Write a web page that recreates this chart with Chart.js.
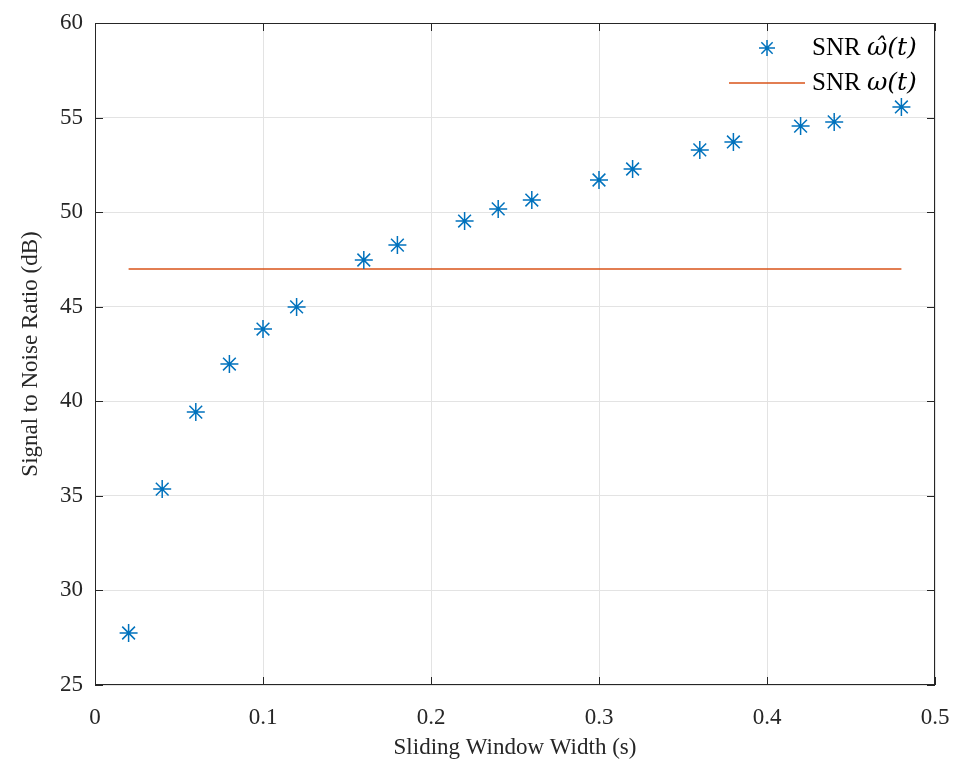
<!DOCTYPE html>
<html>
<head>
<meta charset="utf-8">
<script src="https://cdn.jsdelivr.net/npm/chart.js@4/dist/chart.umd.min.js"></script>
<style>
  html, body { margin: 0; padding: 0; background: #fff; }
  #wrap { width: 957px; height: 762px; }
</style>
</head>
<body>
<div id="wrap"><canvas id="snrChart"></canvas></div>
<script>
// window widths (s) and estimated SNR (dB)
const windowWidths = [0.02, 0.04, 0.06, 0.08, 0.10, 0.12, 0.16, 0.18, 0.22, 0.24, 0.26, 0.30, 0.32, 0.36, 0.38, 0.42, 0.44, 0.48];
const snrEstimated = [27.75, 35.36, 39.43, 41.97, 43.82, 44.99, 47.47, 48.26, 49.53, 50.17, 50.64, 51.70, 52.28, 53.29, 53.71, 54.55, 54.77, 55.56];
const snrTrueX = [0.02, 0.48];
const snrTrueY = [47.0, 47.0];
const seriesLabels = [['SNR ', '\u03C9\u0302(t)'], ['SNR ', '\u03C9(t)']];

const FONT = '"Liberation Serif", "DejaVu Serif", serif';
const BLUE = '#0072BD';
const ORANGE = '#D95319';
const AXIS = '#262626';

// MATLAB-like box with inward ticks + legend inside top-right
const boxPlugin = {
    id: 'boxPlugin',
    afterDraw(chart) {
        const ctx = chart.ctx;
        const a = chart.chartArea;
        const xs = chart.scales.x, ys = chart.scales.y;
        ctx.save();
        ctx.strokeStyle = AXIS;
        ctx.lineWidth = 1;
        ctx.strokeRect(a.left + 0.5, a.top + 0.5, a.right - a.left - 1, a.bottom - a.top - 1);
        const tl = 8;
        ctx.beginPath();
        xs.ticks.forEach(t => {
            const px = Math.round(xs.getPixelForValue(t.value)) + 0.5;
            ctx.moveTo(px, a.bottom); ctx.lineTo(px, a.bottom - tl);
            ctx.moveTo(px, a.top); ctx.lineTo(px, a.top + tl);
        });
        ys.ticks.forEach(t => {
            const py = Math.round(ys.getPixelForValue(t.value)) + 0.5;
            ctx.moveTo(a.left, py); ctx.lineTo(a.left + tl, py);
            ctx.moveTo(a.right, py); ctx.lineTo(a.right - tl, py);
        });
        ctx.stroke();

        // legend
        ctx.fillStyle = '#000';
        ctx.textBaseline = 'middle';
        ctx.textAlign = 'left';
        const lx = 767, ly1 = 48, ly2 = 83;
        ctx.strokeStyle = BLUE;
        ctx.lineWidth = 1.5;
        const r = 8;
        ctx.beginPath();
        for (let k = 0; k < 4; k++) {
            const ang = k * Math.PI / 4;
            ctx.moveTo(lx - r * Math.cos(ang), ly1 - r * Math.sin(ang));
            ctx.lineTo(lx + r * Math.cos(ang), ly1 + r * Math.sin(ang));
        }
        ctx.stroke();
        ctx.strokeStyle = ORANGE;
        ctx.beginPath();
        ctx.moveTo(729, ly2); ctx.lineTo(805, ly2);
        ctx.stroke();
        [ly1, ly2].forEach((ly, i) => {
            ctx.font = '25px ' + FONT;
            ctx.fillText(seriesLabels[i][0], 812, ly);
            const w = ctx.measureText(seriesLabels[i][0]).width;
            ctx.font = 'italic 25px "DejaVu Serif", serif';
            ctx.fillText(seriesLabels[i][1], 812 + w, ly);
        });
        ctx.restore();
    }
};

const ctx = document.getElementById('snrChart').getContext('2d');
const chart = new Chart(ctx, {
    type: 'scatter',
    data: {
        datasets: [{
            label: 'SNR \u03C9\u0302(t)',
            data: windowWidths.map((x, i) => ({ x: x, y: snrEstimated[i] })),
            pointStyle: 'star',
            pointRadius: 9,
            pointBorderWidth: 1.5,
            borderColor: BLUE,
            backgroundColor: BLUE,
            showLine: false
        }, {
            type: 'line',
            label: 'SNR \u03C9(t)',
            data: snrTrueX.map((x, i) => ({ x: x, y: snrTrueY[i] })),
            borderColor: ORANGE,
            borderWidth: 1.5,
            pointRadius: 0,
            fill: false
        }]
    },
    options: {
        responsive: true,
        maintainAspectRatio: false,
        animation: false,
        layout: { padding: { top: 23, right: 22, left: 17, bottom: 0 } },
        plugins: {
            legend: { display: false },
            tooltip: { enabled: false }
        },
        scales: {
            x: {
                type: 'linear',
                min: 0, max: 0.5,
                afterFit: s => { s.height = 77; s.paddingLeft = 0; s.paddingRight = 0; },
                ticks: { stepSize: 0.1, color: AXIS, padding: 19, font: { family: FONT, size: 23 } },
                grid: { color: '#e3e3e3', drawTicks: false },
                border: { display: false },
                title: { display: true, text: 'Sliding Window Width (s)', color: AXIS, padding: { top: 0, bottom: 0 }, font: { family: FONT, size: 23 } }
            },
            y: {
                min: 25, max: 60,
                afterFit: s => { s.width = 78; s.paddingTop = 0; s.paddingBottom = 0; },
                ticks: { stepSize: 5, color: AXIS, padding: 12, font: { family: FONT, size: 23 } },
                grid: { color: '#e3e3e3', drawTicks: false },
                border: { display: false },
                title: { display: true, text: 'Signal to Noise Ratio (dB)', color: AXIS, padding: { top: 0, bottom: 6 }, font: { family: FONT, size: 23 } }
            }
        }
    },
    plugins: [boxPlugin]
});
</script>
</body>
</html>
